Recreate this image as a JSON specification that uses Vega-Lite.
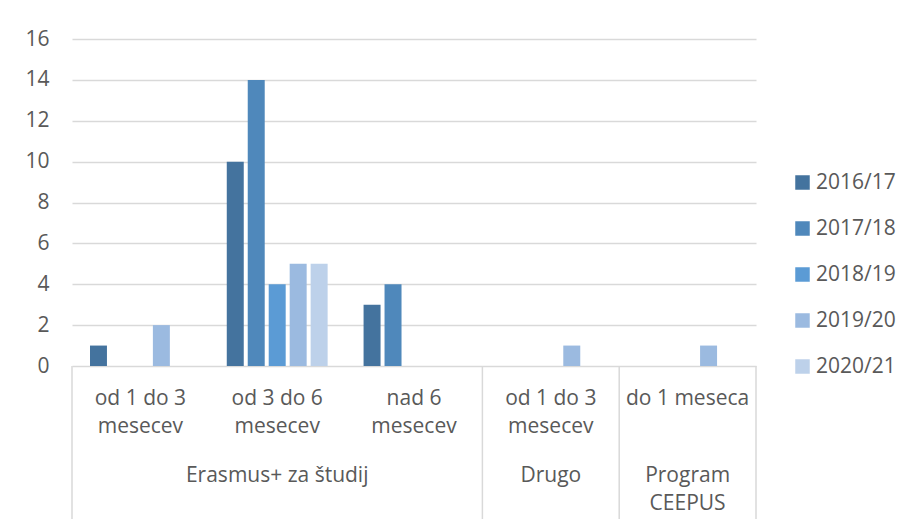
{
  "$schema": "https://vega.github.io/schema/vega-lite/v6.json",
  "background": "white",
  "padding": {"left": 24, "top": 28, "right": 0, "bottom": 0},
  "spacing": 0,
  "bounds": "flush",
  "config": {
    "font": "Open Sans",
    "view": {"stroke": null},
    "concat": {"spacing": 0}
  },
  "datasets": {
    "bars": [
      {"cat": "E1", "year": "2016/17", "value": 1},
      {"cat": "E1", "year": "2019/20", "value": 2},
      {"cat": "E2", "year": "2016/17", "value": 10},
      {"cat": "E2", "year": "2017/18", "value": 14},
      {"cat": "E2", "year": "2018/19", "value": 4},
      {"cat": "E2", "year": "2019/20", "value": 5},
      {"cat": "E2", "year": "2020/21", "value": 5},
      {"cat": "E3", "year": "2016/17", "value": 3},
      {"cat": "E3", "year": "2017/18", "value": 4},
      {"cat": "D1", "year": "2019/20", "value": 1},
      {"cat": "C1", "year": "2019/20", "value": 1}
    ],
    "labels": [
      {"cat": "E1", "row": "sub", "label": "od 1 do 3\nmesecev"},
      {"cat": "E2", "row": "sub", "label": "od 3 do 6\nmesecev"},
      {"cat": "E3", "row": "sub", "label": "nad 6\nmesecev"},
      {"cat": "D1", "row": "sub", "label": "od 1 do 3\nmesecev"},
      {"cat": "C1", "row": "sub", "label": "do 1 meseca"},
      {"cat": "E2", "row": "group", "label": "Erasmus+ za študij"},
      {"cat": "D1", "row": "group", "label": "Drugo"},
      {"cat": "C1", "row": "group", "label": "Program\nCEEPUS"}
    ],
    "seps": [
      {"cat": "E1"},
      {"cat": "D1"},
      {"cat": "C1"}
    ],
    "ends": [
      {"cat": "C1"}
    ]
  },
  "vconcat": [
    {
      "width": 684,
      "height": 327,
      "data": {"name": "bars"},
      "mark": {"type": "bar"},
      "encoding": {
        "x": {
          "field": "cat",
          "type": "nominal",
          "scale": {"domain": ["E1", "E2", "E3", "D1", "C1"], "paddingInner": 0, "paddingOuter": 0},
          "axis": null
        },
        "xOffset": {
          "field": "year",
          "type": "nominal",
          "scale": {"domain": ["2016/17", "2017/18", "2018/19", "2019/20", "2020/21"], "paddingInner": 0.19, "paddingOuter": 0.857}
        },
        "y": {
          "field": "value",
          "type": "quantitative",
          "scale": {"domain": [0, 16], "nice": false},
          "axis": {
            "values": [0, 2, 4, 6, 8, 10, 12, 14, 16],
            "title": null,
            "domain": false,
            "ticks": false,
            "labelPadding": 23,
            "labelFontSize": 21,
            "labelColor": "#595959",
            "gridColor": "#D9D9D9",
            "gridWidth": 1.5
          }
        },
        "color": {
          "field": "year",
          "type": "nominal",
          "scale": {
            "domain": ["2016/17", "2017/18", "2018/19", "2019/20", "2020/21"],
            "range": ["#44739E", "#4F88BB", "#5B9BD5", "#9BBAE0", "#BDD1EA"]
          },
          "legend": {
            "title": null,
            "orient": "none",
            "legendX": 720,
            "legendY": 133,
            "symbolType": "square",
            "symbolSize": 210,
            "symbolStrokeWidth": 0,
            "symbolOpacity": 1,
            "labelFontSize": 21,
            "labelColor": "#595959",
            "labelOffset": 3,
            "rowPadding": 24
          }
        }
      }
    },
    {
      "width": 684,
      "height": 153,
      "layer": [
        {
          "data": {"name": "seps"},
          "mark": {"type": "rule", "color": "#D9D9D9", "strokeWidth": 1.5},
          "encoding": {
            "x": {
              "field": "cat",
              "type": "nominal",
              "bandPosition": 0,
              "scale": {"domain": ["E1", "E2", "E3", "D1", "C1"], "paddingInner": 0, "paddingOuter": 0},
              "axis": null
            }
          }
        },
        {
          "data": {"name": "ends"},
          "mark": {"type": "rule", "color": "#D9D9D9", "strokeWidth": 1.5},
          "encoding": {
            "x": {
              "field": "cat",
              "type": "nominal",
              "bandPosition": 1,
              "axis": null
            }
          }
        },
        {
          "data": {"name": "labels"},
          "mark": {"type": "text", "baseline": "top", "align": "center", "fontSize": 21, "color": "#595959", "lineBreak": "\n", "lineHeight": 28},
          "encoding": {
            "x": {"field": "cat", "type": "nominal", "axis": null},
            "y": {
              "field": "row",
              "type": "ordinal",
              "scale": {"type": "point", "domain": ["sub", "group"], "range": [22, 99], "padding": 0},
              "axis": null
            },
            "text": {"field": "label"}
          }
        }
      ]
    }
  ]
}
